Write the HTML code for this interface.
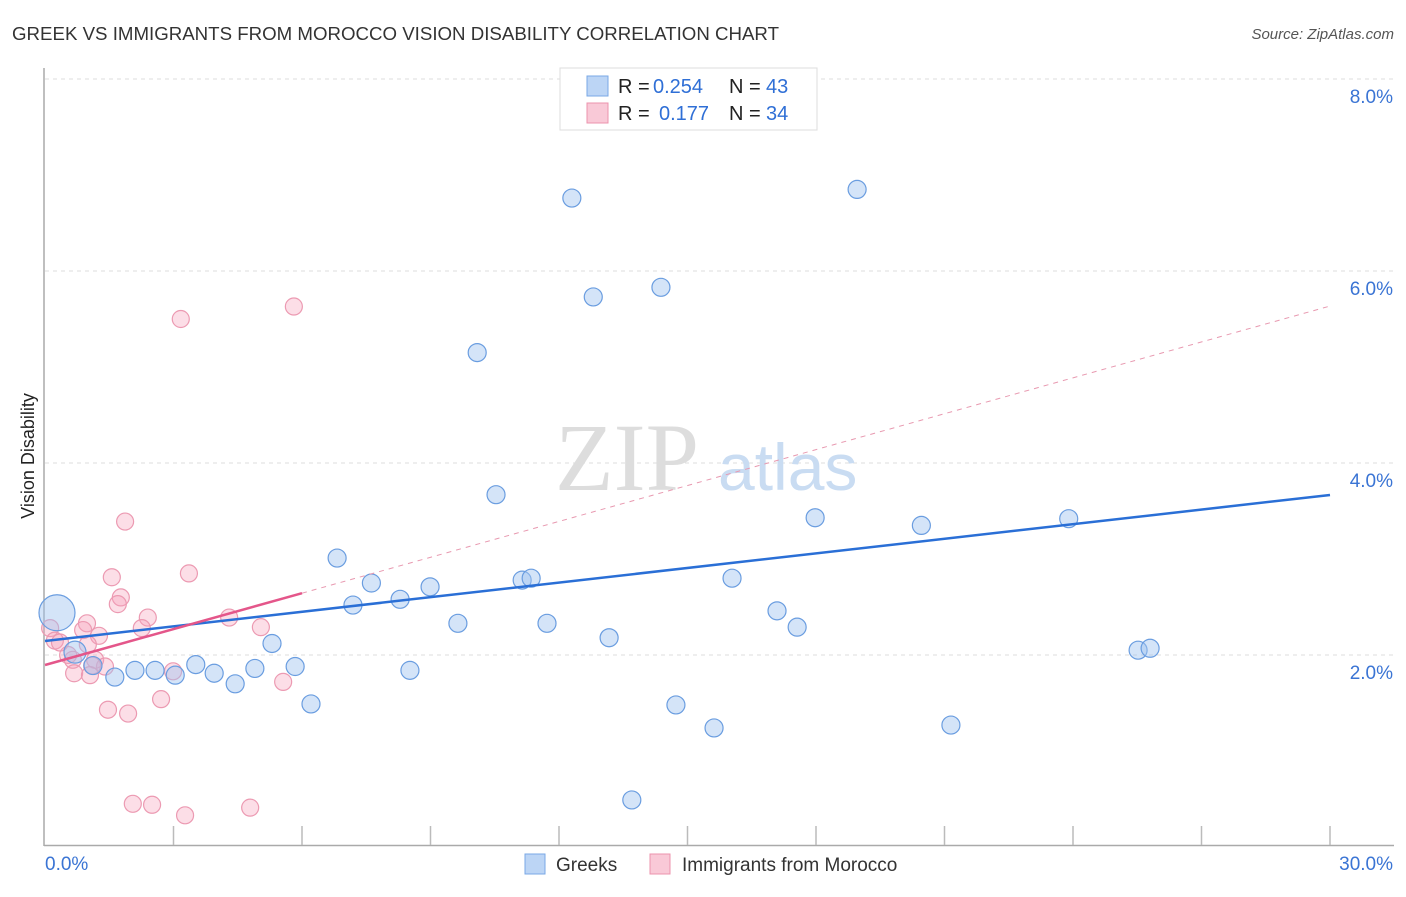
<!DOCTYPE html>
<html><head><meta charset="utf-8"><style>
body{margin:0;background:#fff;font-family:"Liberation Sans",sans-serif}
</style></head><body>
<svg id="chart" width="1406" height="892" xmlns="http://www.w3.org/2000/svg" style="font-family:'Liberation Sans',sans-serif">
<text x="12" y="40" font-size="18" fill="#333" textLength="767" lengthAdjust="spacingAndGlyphs">GREEK VS IMMIGRANTS FROM MOROCCO VISION DISABILITY CORRELATION CHART</text>
<text x="1394" y="39" font-size="15" fill="#555" font-style="italic" text-anchor="end">Source: ZipAtlas.com</text>
<text transform="translate(34,456) rotate(-90)" font-size="18" fill="#222" text-anchor="middle">Vision Disability</text>
<g id="grid"></g><g id="axes"></g>
<text x="555" y="490" font-size="96" fill="#ddd" font-family="Liberation Serif">ZIP</text>
<text x="718" y="490" font-size="66" fill="#c9dcf2">atlas</text>
<g id="pts"></g><g id="lines"></g>
<g>
<rect x="560" y="68" width="257" height="62" fill="#fff" stroke="#ddd"/>
<rect x="587" y="76" width="21" height="20" fill="#bcd5f5" stroke="#7aa8e6"/>
<rect x="587" y="103" width="21" height="20" fill="#f9c9d7" stroke="#ec93ad"/>
<text x="618" y="93" font-size="20" fill="#222">R =</text>
<text x="653" y="93" font-size="20" fill="#2f6fd6">0.254</text>
<text x="729" y="93" font-size="20" fill="#222">N =</text>
<text x="766" y="93" font-size="20" fill="#2f6fd6">43</text>
<text x="618" y="120" font-size="20" fill="#222">R =</text>
<text x="659" y="120" font-size="20" fill="#2f6fd6">0.177</text>
<text x="729" y="120" font-size="20" fill="#222">N =</text>
<text x="766" y="120" font-size="20" fill="#2f6fd6">34</text>
</g>
<g>
<rect x="525" y="854" width="20" height="20" fill="#bcd5f5" stroke="#7aa8e6"/>
<text x="556" y="871" font-size="19" fill="#333">Greeks</text>
<rect x="650" y="854" width="20" height="20" fill="#f9c9d7" stroke="#ec93ad"/>
<text x="682" y="871" font-size="19" fill="#333">Immigrants from Morocco</text>
</g>
</svg>
<script>
const yTicks=[2,4,6,8];
const yTickLabels=["2.0%","4.0%","6.0%","8.0%"];
const xEndLabels=["0.0%","30.0%"];
const greekX=[12.3,18.96,12.8,14.38,10.09,10.53,17.98,20.46,23.9,6.82,7.62,7.19,8.29,8.99,11.14,11.35,16.04,9.64,11.72,13.17,17.09,17.56,5.3,25.52,25.8,5.84,4.9,3.52,3.95,2.57,2.1,1.63,3.04,4.44,8.52,6.21,14.73,15.62,21.15,13.7,0.28,0.7,1.12];
const greekY=[6.76,6.85,5.73,5.83,5.15,3.67,3.43,3.35,3.42,3.01,2.75,2.52,2.58,2.71,2.78,2.8,2.8,2.33,2.33,2.18,2.46,2.29,2.12,2.05,2.07,1.88,1.86,1.9,1.81,1.84,1.84,1.77,1.79,1.7,1.84,1.49,1.48,1.24,1.27,0.49,2.44,2.03,1.89];
const greekR=[9,9,9,9,9,9,9,9,9,9,9,9,9,9,9,9,9,9,9,9,9,9,9,9,9,9,9,9,9,9,9,9,9,9,9,9,9,9,9,9,18,11,9];
const morX=[3.17,5.81,1.87,3.36,1.56,1.77,1.7,2.4,0.98,4.3,2.26,5.04,0.12,0.23,0.35,0.89,1.26,1.0,0.54,0.65,1.17,1.4,1.1,2.99,0.68,1.05,5.56,2.71,1.47,1.94,2.05,2.5,3.27,4.79];
const morY=[5.5,5.63,3.39,2.85,2.81,2.6,2.53,2.39,2.33,2.39,2.28,2.29,2.28,2.15,2.13,2.26,2.2,2.11,2.0,1.95,1.95,1.88,1.89,1.83,1.81,1.79,1.72,1.54,1.43,1.39,0.45,0.44,0.33,0.41];
const xs=v=>45+v*(1285/30), ys=v=>847-v*96;
const NS='http://www.w3.org/2000/svg';
function mk(t,a,p){const e=document.createElementNS(NS,t);for(const k in a)e.setAttribute(k,a[k]);p.appendChild(e);return e;}
const grid=document.getElementById('grid'),axes=document.getElementById('axes');
yTicks.forEach((t,i)=>{
 const l=mk('line',{x1:45,x2:1394,y1:ys(t),y2:ys(t),stroke:'#ddd','stroke-dasharray':'4,4'},grid);
 
 
 const tx=mk('text',{x:1393,y:ys(t)+24,'font-size':19,fill:'#3a74d4','text-anchor':'end'},axes);
 tx.textContent=yTickLabels[i];
 
 
});
mk('line',{x1:44,x2:44,y1:68,y2:846,stroke:'#aaa','stroke-width':1.5},axes);
mk('line',{x1:44,x2:1394,y1:845.5,y2:845.5,stroke:'#aaa','stroke-width':1.5},axes);
for(let i=1;i<=10;i++){const t=mk('line',{x1:xs(i*3),x2:xs(i*3),y1:826,y2:845,stroke:'#bbb','stroke-width':1.5},axes);}
const xl0=mk('text',{x:45,y:870,'font-size':19,fill:'#3a74d4'},axes);xl0.textContent=xEndLabels[0];

const xl1=mk('text',{x:1393,y:870,'font-size':19,fill:'#3a74d4','text-anchor':'end'},axes);xl1.textContent=xEndLabels[1];

const pts=document.getElementById('pts');
morX.forEach((v,i)=>{const c=mk('circle',{cx:xs(v),cy:ys(morY[i]),r:8.5,fill:'rgba(245,160,185,0.35)',stroke:'#ec9ab2','stroke-width':1.2},pts);
 
 });
greekX.forEach((v,i)=>{const c=mk('circle',{cx:xs(v),cy:ys(greekY[i]),r:greekR[i],fill:'rgba(160,195,240,0.45)',stroke:'#6a9de0','stroke-width':1.2},pts);
 
 });
const lines=document.getElementById('lines');
const bT=[2.146,3.667], pT=[1.896,5.635];
const pf=x=>pT[0]+(pT[1]-pT[0])*x/30;
const bl=mk('line',{x1:xs(0),y1:ys(bT[0]),x2:xs(30),y2:ys(bT[1]),stroke:'#2a6fd6','stroke-width':2.5},lines);


const pd=mk('line',{x1:xs(6),y1:ys(pf(6)),x2:xs(30),y2:ys(pf(30)),stroke:'#e899b0','stroke-width':1,'stroke-dasharray':'5,5'},lines);


const pl=mk('line',{x1:xs(0),y1:ys(pf(0)),x2:xs(6),y2:ys(pf(6)),stroke:'#e4568a','stroke-width':2.5},lines);


</script>
</body></html>
